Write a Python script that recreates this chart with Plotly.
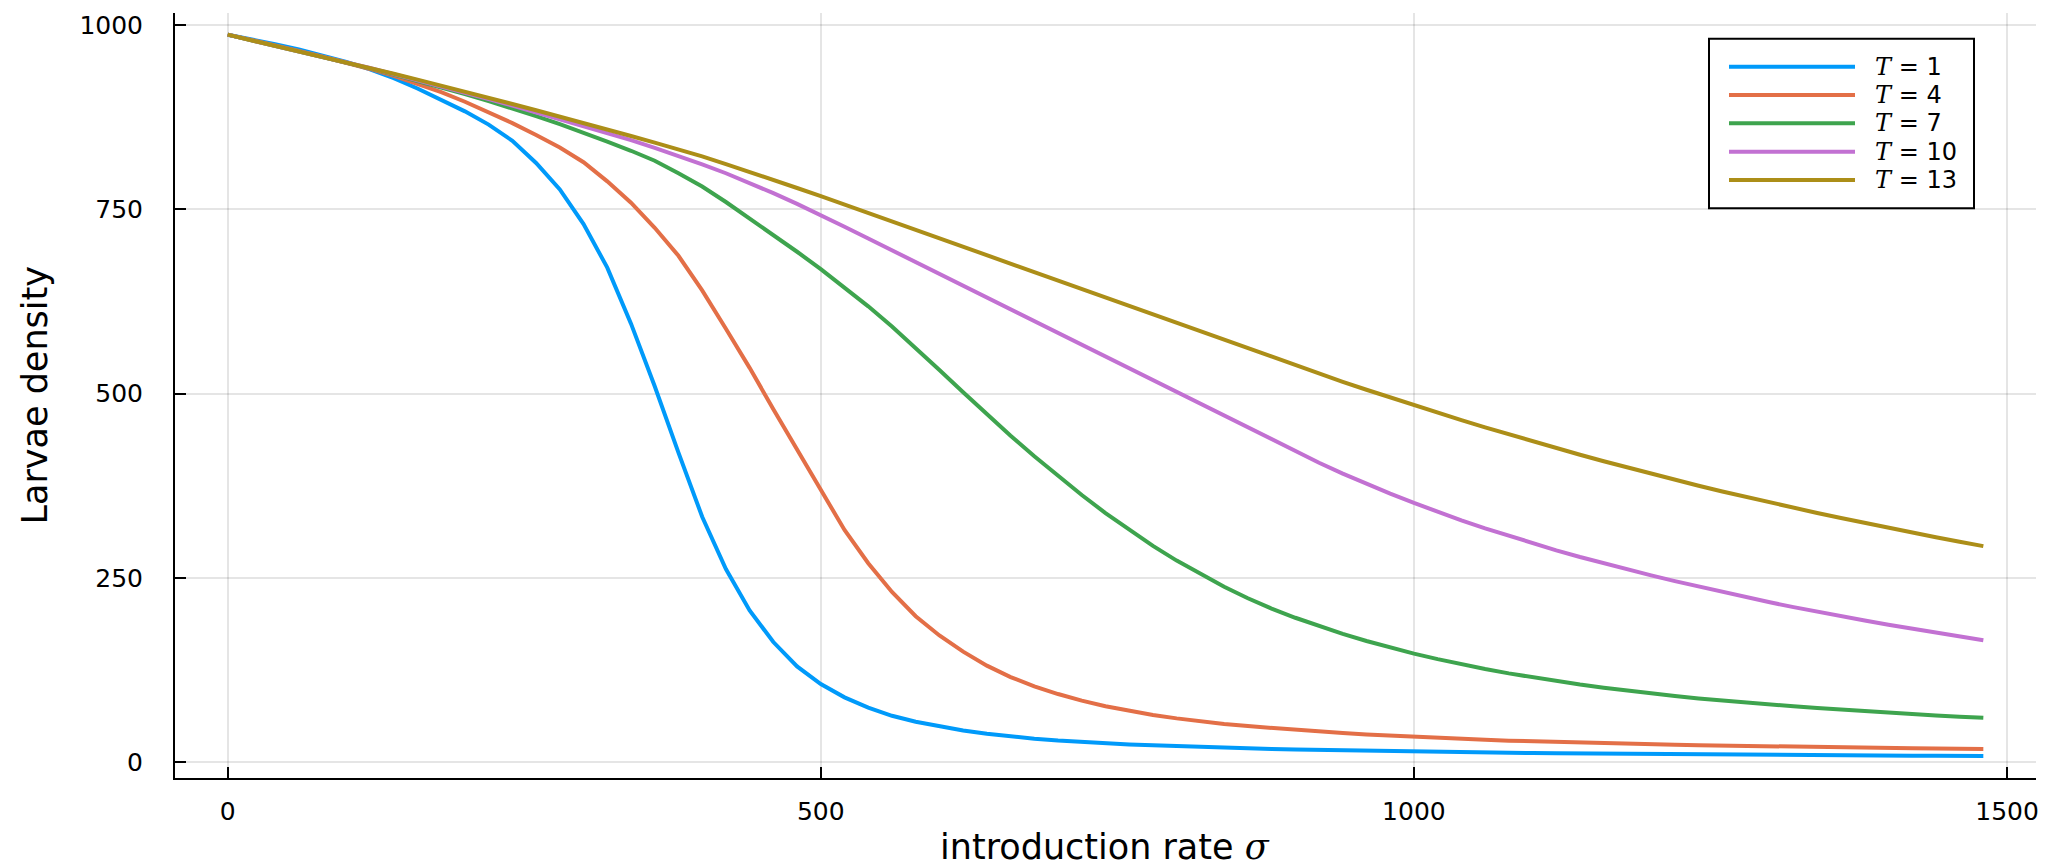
import plotly.graph_objects as go

# introduction rate sigma, sampled every 20
sigma = list(range(0, 1500, 20))

labels = ["1", "4", "7", "10", "13"]
colors = ["#009AFA", "#E36F47", "#3EA44E", "#C271D2", "#AC8E18"]

larvae_T1 = [987, 981, 974, 967, 959, 950, 940, 928, 914, 899,
             883, 865, 843, 813, 777, 730, 671, 595, 510, 420,
             333, 262, 206, 163, 130, 106, 88, 74, 63, 55,
             48.5, 43, 38.5, 35, 32, 29.5, 27.5, 25.7, 24.2, 23,
             21.8, 20.7, 19.7, 18.8, 18, 17.2, 16.6, 16, 15.4, 14.9,
             14.4, 14, 13.5, 13.1, 12.7, 12.4, 12.1, 11.8, 11.5, 11.2,
             11, 10.7, 10.5, 10.3, 10.1, 9.9, 9.7, 9.5, 9.3, 9.2,
             9.0, 8.9, 8.7, 8.6, 8.5]

larvae_T4 = [987, 980, 972.5, 965, 957, 949, 940.5, 931, 920.5, 909,
             896, 882, 867, 851, 834, 814, 788, 759, 725, 687,
             640, 588, 535, 479, 424, 369, 315, 270, 231, 198,
             172, 150, 131, 115.5, 103, 92.5, 83.5, 76, 69.5, 64,
             59.5, 55.5, 52, 49, 46.3, 43.8, 41.5, 39.5, 37.6, 35.9,
             34.3, 32.9, 31.6, 30.4, 29.3, 28.3, 27.4, 26.5, 25.7, 25,
             24.3, 23.7, 23.1, 22.5, 22, 21.5, 21, 20.5, 20.1, 19.7,
             19.3, 18.9, 18.5, 18.2, 17.8]

larvae_T7 = [987, 979.5, 972, 964.5, 957, 949.5, 941.3, 933, 924.5, 915.7,
             906.5, 897, 887, 876.5, 865.5, 854, 842, 829.5, 816, 799,
             781, 760, 738, 715.5, 692.5, 669, 644.5, 618.5, 591, 562,
             532, 502, 472, 443, 415, 388, 362.5, 338, 315, 293.5,
             273.5, 255, 238, 222.5, 208.5, 196, 184.5, 174, 164.5, 155.5,
             147.3, 139.8, 132.8, 126.4, 120.5, 115, 110, 105.3, 101, 97,
             93.2, 89.8, 86.6, 83.6, 80.8, 78.2, 75.8, 73.5, 71.3, 69.2,
             67.2, 65.3, 63.5, 61.8, 60.2]

larvae_T10 = [987, 979.6, 972.2, 964.8, 957.3, 949.8, 941.7, 933.5, 925.3, 917,
              908.5, 899.8, 890.8, 881.5, 872.5, 863.5, 854, 844, 833.5, 822.5,
              811, 799, 786, 772, 757.5, 742.5, 726.5, 710.5, 694.5, 678.5,
              662.5, 646.5, 630.5, 614.5, 598.5, 582.5, 566.5, 550.5, 534.5, 518.3,
              502.1, 485.9, 469.7, 453.5, 437.4, 421.6, 406.3, 391.6, 377.6, 364.3,
              351.7, 339.7, 328.2, 317.3, 306.9, 297, 287.5, 278.4, 269.7, 261.4,
              253.4, 245.7, 238.3, 231.2, 224.4, 217, 210.4, 204, 198, 192.2,
              186.6, 181.2, 175.9, 170.8, 165.5]

larvae_T13 = [987, 979.6, 972.2, 964.8, 957.4, 950, 942, 934, 926, 918,
              910, 901.5, 893, 884.5, 876, 867.5, 858.5, 849.5, 840.5, 831.5,
              822, 811.5, 801, 790, 779, 768, 756.5, 745, 733.5, 722,
              710.5, 699, 687.5, 676, 664.5, 653, 641.5, 630, 618.5, 607,
              595.5, 583.8, 572.2, 560.7, 549.3, 538.1, 527, 516.1, 505.3, 494.7,
              484.3, 474.1, 464.1, 454.3, 444.7, 435.3, 426.1, 417.1, 408.3, 399.7,
              391.3, 383.1, 375.1, 367.3, 359.7, 352.3, 345.1, 338.1, 331.3, 324.6,
              318, 311.6, 305.3, 299.2, 293.2]

series = [larvae_T1, larvae_T4, larvae_T7, larvae_T10, larvae_T13]
for s in series:
    assert len(s) == len(sigma)

# plot-area geometry in pixels, used for the hand-built legend and titles
W, H = 2059, 866
PL, PR, PT, PB = 175, 2036, 11, 778


def fx(p):
    return (p - PL) / (PR - PL)


def fy(p):
    return (PB - p) / (PB - PT)


SANS = "DejaVu Sans"
SERIF = "DejaVu Serif"
LINE_W = 4

fig = go.Figure()
for lab, col, vals in zip(labels, colors, series):
    fig.add_trace(go.Scatter(
        x=sigma, y=vals, mode="lines", name=f"T = {lab}",
        line=dict(color=col, width=LINE_W), showlegend=False,
    ))

axis_common = dict(
    showgrid=True, gridcolor="rgba(0,0,0,0.1)", gridwidth=1.5,
    zeroline=False, showline=True, linecolor="black", linewidth=2,
    ticks="inside", ticklen=11, tickwidth=1.5, tickcolor="black",
    tickfont=dict(family=SANS, size=25, color="black"),
    mirror=False,
)

fig.update_layout(
    width=W, height=H,
    margin=dict(l=PL, r=W - PR, t=PT, b=H - PB, pad=0),
    plot_bgcolor="white", paper_bgcolor="white",
    xaxis=dict(range=[-44.4, 1524.4], tickvals=[0, 500, 1000, 1500],
               ticklabelstandoff=10, **axis_common),
    yaxis=dict(range=[-21.4, 1016.4], tickvals=[0, 250, 500, 750, 1000],
               ticklabelstandoff=25, **axis_common),
)

shapes = []
annotations = []

# legend box
LX0, LX1, LY0, LY1 = 1709, 1974, 36.7, 206.7
shapes.append(dict(type="rect", xref="paper", yref="paper",
                   x0=fx(LX0), x1=fx(LX1), y0=fy(LY1), y1=fy(LY0),
                   line=dict(color="black", width=2), fillcolor="white",
                   layer="above"))
for i, (lab, col) in enumerate(zip(labels, colors)):
    yrow = 65 + 28.33 * i
    shapes.append(dict(type="line", xref="paper", yref="paper",
                       x0=fx(1729), x1=fx(1855), y0=fy(yrow), y1=fy(yrow),
                       line=dict(color=col, width=LINE_W), layer="above"))
    annotations.append(dict(
        xref="paper", yref="paper", x=fx(1873), y=fy(yrow),
        xanchor="left", yanchor="middle", showarrow=False,
        text=f"<span style='font-family:{SERIF}'><i>T</i> = </span>{lab}",
        font=dict(family=SANS, size=24, color="black"),
    ))

# axis titles
annotations.append(dict(
    xref="paper", yref="paper", x=fx(1105), y=fy(847), xanchor="center",
    yanchor="middle", showarrow=False,
    text=f"introduction rate <span style='font-family:{SERIF}'><i>σ</i></span>",
    font=dict(family=SANS, size=35, color="black"),
))
annotations.append(dict(
    xref="paper", yref="paper", x=fx(34), y=fy(394.5), xanchor="center",
    yanchor="middle", showarrow=False, textangle=-90,
    text="Larvae density",
    font=dict(family=SANS, size=35, color="black"),
))

fig.update_layout(shapes=shapes, annotations=annotations)
fig.write_html("out.html")
